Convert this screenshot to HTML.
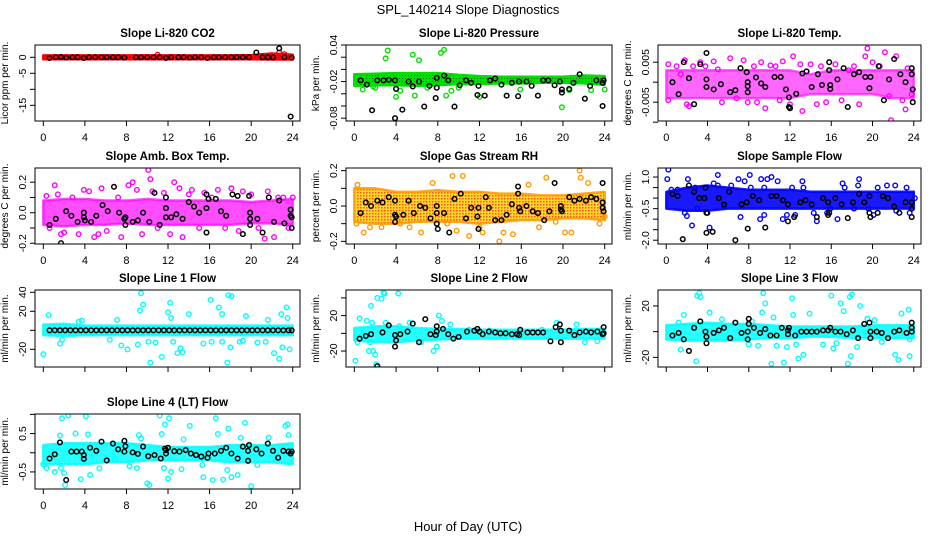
<!DOCTYPE html>
<html><head><meta charset="utf-8"><style>
html,body{margin:0;padding:0;background:#fff;}
svg{display:block;font-family:"Liberation Sans",sans-serif;}
</style></head><body>
<svg id="chart" width="936" height="540" viewBox="0 0 936 540">
<defs>
<pattern id="pGreen" width="3" height="3" patternUnits="userSpaceOnUse"><rect width="3" height="3" fill="#00e000"/><rect width="1" height="1" fill="#226622"/></pattern>
<pattern id="pOrange" width="3" height="3" patternUnits="userSpaceOnUse"><rect width="3" height="3" fill="#ffd000"/><rect width="1.5" height="1.5" fill="#ff3000"/></pattern>
</defs>
<text x="468" y="14" text-anchor="middle" font-size="13">SPL_140214  Slope Diagnostics</text>
<text x="468" y="531" text-anchor="middle" font-size="13">Hour of Day (UTC)</text>
</svg>
<script>
const bandHours=[0,2,4,6,8,10,12,14,16,18,20,22,24];
const xTicks=[0,4,8,12,16,20,24];

const co2Lo=[-0.6,-0.6,-0.6,-0.6,-0.6,-0.6,-0.6,-0.6,-0.6,-0.6,-0.6,-0.7,-0.7];
const co2Hi=[0.6,0.6,0.6,0.6,0.6,0.6,0.6,0.6,0.6,0.6,0.7,1.2,0.8];
const co2Out=[[22.7,1.5],[11,0.8],[23.2,1.0]];
const co2Black=[[0.6,-0.2],[1.2,0],[1.7,0.1],[2.2,-0.1],[2.8,0],[3.3,0],[3.9,-0.2],[4.4,0],[5,0],[5.6,0],[6.1,0],[6.7,0],[7.2,0],[7.8,-0.1],[8.9,0],[9.4,0],[10,0],[10.6,0],[11.2,0],[11.8,-0.2],[12.3,0],[13,0],[13.5,0],[14.1,-0.1],[14.6,0],[15.2,0],[15.8,-0.2],[16.4,0],[16.9,0],[17.5,0],[18.1,0],[18.6,0],[19.2,0],[19.8,0],[20.5,1.5],[21.1,0],[21.6,0],[22.1,0],[22.7,2.8],[23.2,0],[23.8,-18.5],[23.9,-0.1]];

const presLo=[-0.027,-0.026,-0.026,-0.027,-0.026,-0.024,-0.024,-0.023,-0.023,-0.022,-0.022,-0.023,-0.025];
const presHi=[-0.008,-0.007,-0.006,-0.006,-0.006,-0.009,-0.011,-0.012,-0.012,-0.012,-0.012,-0.010,-0.011];
const presOut=[[3.2,0.031],[3,0.018],[8.6,0.032],[8.3,0.027],[5.6,0.024],[6.2,0.015],[0.8,-0.033],[2,-0.03],[4,-0.045],[4.4,-0.035],[5.8,-0.043],[8.8,-0.043],[9.3,-0.035],[12,-0.045],[15.9,-0.033],[19.9,-0.062],[22.7,-0.034],[24,-0.033],[20.6,-0.034],[1.8,-0.028],[7,-0.03],[10,-0.03]];
const presBlack=[[0.6,-0.018],[1.2,-0.025],[1.7,-0.067],[2.2,-0.018],[2.8,-0.018],[3.3,-0.017],[3.9,-0.08],[3.9,-0.018],[4.0,-0.032],[4.6,-0.066],[5.2,-0.02],[5.6,-0.028],[6.2,-0.02],[6.7,-0.061],[7.2,-0.027],[7.8,-0.047],[7.9,-0.03],[7.9,-0.014],[8.6,-0.01],[9.0,-0.018],[9.6,-0.061],[10.1,-0.026],[10.7,-0.018],[11.2,-0.022],[11.8,-0.042],[11.9,-0.027],[12.5,-0.043],[13.0,-0.018],[13.5,-0.015],[14.1,-0.025],[14.6,-0.043],[15.1,-0.022],[15.7,-0.044],[15.8,-0.02],[16.5,-0.02],[17.0,-0.027],[17.6,-0.043],[18.1,-0.018],[18.6,-0.018],[19.2,-0.026],[19.7,-0.02],[19.9,-0.038],[19.9,-0.033],[20.6,-0.032],[21.0,-0.022],[21.6,-0.008],[22.1,-0.048],[22.6,-0.027],[23.2,-0.018],[23.8,-0.06],[23.8,-0.022],[23.9,-0.018]];

const tempLo=[-0.004,-0.004,-0.004,-0.004,-0.004,-0.004,-0.004,-0.003,-0.003,-0.003,-0.003,-0.004,-0.004];
const tempHi=[0.003,0.003,0.003,0.003,0.003,0.003,0.003,0.002,0.003,0.003,0.003,0.003,0.003];
const tempOut=[[0.2,0.0045],[0.2,-0.0045],[1,0.004],[1.4,0.002],[1.8,0.0055],[2,-0.0055],[2.2,-0.006],[2.6,0.004],[3.3,0.005],[3.8,0.004],[4.6,0.0052],[5,0.0032],[5.4,-0.005],[6.2,0.006],[6.8,-0.004],[7.5,0.0055],[7.9,-0.005],[8.5,0.004],[8.8,-0.005],[9.2,0.005],[9.6,-0.0065],[10.1,0.0042],[10.6,0.004],[11,-0.0045],[11.3,0.0052],[12,-0.0055],[12.3,0.0065],[13,0.0045],[13.2,-0.0072],[14,0.0045],[14.6,-0.0055],[15,0.004],[15.5,-0.005],[16.4,0.0045],[17,-0.0045],[17.7,0.003],[18.2,0.004],[18.7,-0.0055],[19.3,0.0065],[19.5,0.0085],[20,0.005],[20.7,0.004],[21.2,0.0075],[21.6,-0.0035],[21.8,-0.0095],[22.3,0.0065],[22.9,-0.0045],[23.2,-0.0068],[23.4,0.0035],[23.8,-0.003]];
const tempBlack=[[0.6,0.0],[1.2,-0.003],[1.7,0.005],[2.2,0.001],[2.7,-0.0055],[3.3,0.0045],[3.9,0.0073],[3.9,0.0007],[3.9,-0.0012],[4.6,-0.0018],[5.3,-0.0005],[6.2,-0.0025],[6.7,-0.002],[7.2,0.0035],[7.8,0.0025],[7.9,0.0],[7.9,-0.001],[7.9,-0.0025],[8.7,0.0012],[9.2,-0.0003],[9.6,-0.0012],[10.5,0.0013],[11.1,0.0013],[11.6,-0.0018],[11.9,-0.0038],[11.9,-0.0062],[12.0,-0.0065],[12.6,-0.0029],[13.2,0.0022],[13.6,0.0027],[14.1,-0.0012],[14.7,0.002],[15.1,-0.0007],[15.8,0.005],[15.8,0.003],[15.9,-0.0007],[15.9,-0.0017],[16.6,0.0007],[17.2,0.0035],[17.6,-0.0062],[18.2,0.002],[18.7,0.0025],[19.3,0.0013],[19.7,-0.0015],[19.8,0.0013],[20.6,0.004],[21.1,-0.0045],[21.6,0.0007],[22.1,0.0058],[22.7,0.002],[23.2,0.0],[23.8,0.0035],[23.8,0.002],[23.9,-0.0018],[23.9,-0.005]];

const ambLo=[-0.08,-0.09,-0.08,-0.08,-0.07,-0.08,-0.08,-0.08,-0.08,-0.08,-0.07,-0.07,-0.08];
const ambHi=[0.08,0.09,0.09,0.08,0.08,0.09,0.08,0.08,0.08,0.08,0.07,0.08,0.09];
const ambOut=[[0.3,0.11],[0.6,-0.1],[1.1,0.18],[1.4,0.12],[1.7,-0.14],[2,-0.13],[2.8,0.1],[3.4,-0.14],[3.9,0.15],[4.4,0.14],[4.9,-0.16],[5.3,-0.14],[5.6,0.16],[6.1,-0.12],[7.2,0.1],[7.5,-0.16],[8.2,0.18],[8.6,0.2],[9.0,0.15],[9.5,-0.14],[10.1,0.28],[10.3,0.22],[10.5,0.14],[11,-0.1],[11.6,0.13],[12.2,-0.14],[12.6,0.2],[13.1,0.16],[13.4,-0.16],[14,0.12],[14.3,0.15],[15,-0.1],[15.5,0.13],[16.2,0.1],[16.8,0.15],[17.5,-0.1],[18.1,0.16],[18.8,-0.12],[19.2,0.14],[20,0.12],[20.7,-0.1],[21.3,-0.17],[21.6,0.14],[22.2,-0.16],[22.6,0.1],[23.1,0.1],[23.6,-0.1],[24,0.1]];
const ambBlack=[[0.6,-0.08],[1.2,-0.04],[1.7,-0.2],[2.2,0.01],[2.7,-0.02],[3.3,-0.06],[3.9,0.0],[3.9,-0.03],[4.0,-0.05],[4.6,-0.06],[5.1,-0.02],[5.7,0.05],[6.2,0.01],[6.8,0.17],[7.3,0.0],[7.8,-0.04],[7.9,-0.03],[7.9,-0.08],[8.6,-0.06],[9.1,-0.05],[9.6,0.0],[10.2,-0.06],[10.7,0.13],[11.2,-0.08],[11.8,0.1],[11.8,0.03],[11.8,-0.03],[12.3,-0.03],[12.8,-0.01],[13.4,-0.04],[14.0,0.07],[14.5,0.04],[15.0,0.0],[15.7,0.12],[15.7,0.03],[15.7,-0.13],[15.9,0.09],[16.6,0.09],[17.1,0.01],[17.6,-0.02],[18.2,0.12],[18.7,0.11],[19.2,-0.14],[19.8,0.11],[19.9,0.0],[19.9,-0.04],[19.9,-0.08],[20.6,-0.04],[21.1,-0.13],[21.7,0.1],[22.2,-0.06],[22.7,0.08],[23.2,-0.07],[23.8,0.02],[23.8,-0.02],[23.9,-0.1],[23.9,-0.03]];

const rhLo=[-0.09,-0.1,-0.1,-0.09,-0.09,-0.09,-0.1,-0.09,-0.08,-0.08,-0.07,-0.07,-0.08];
const rhHi=[0.1,0.1,0.08,0.08,0.09,0.08,0.08,0.07,0.07,0.06,0.06,0.07,0.08];
const rhOut=[[0.3,0.12],[0.2,-0.1],[0.9,-0.15],[1.5,-0.12],[2.6,-0.12],[4.4,-0.1],[5.3,-0.12],[6.4,-0.15],[7.5,0.13],[8.9,-0.1],[9.4,0.17],[9.8,-0.14],[10.4,0.17],[11,-0.17],[12,-0.12],[12.3,-0.15],[13.9,-0.2],[14.3,-0.15],[15.2,-0.16],[16.7,0.12],[17.7,-0.12],[18.4,0.16],[19.3,-0.09],[20.2,-0.15],[20.8,-0.15],[21.6,0.2],[21.7,0.16],[22.4,0.13],[23.5,-0.1],[24,-0.06]];
const rhBlack=[[0.6,-0.04],[1.1,0.02],[1.6,0.0],[2.2,0.03],[2.7,0.02],[3.3,0.05],[3.9,0.03],[3.9,-0.05],[3.9,-0.09],[4.0,-0.06],[4.7,-0.05],[5.2,0.03],[5.7,-0.04],[6.3,0.0],[6.8,-0.01],[7.3,-0.07],[7.9,0.0],[7.9,-0.04],[7.9,-0.1],[8.0,-0.13],[8.6,-0.04],[9.1,-0.15],[9.6,0.04],[10.2,0.07],[10.7,-0.07],[11.2,-0.01],[11.8,-0.06],[11.9,-0.01],[11.9,-0.13],[12.9,-0.01],[12.6,0.05],[13.5,-0.08],[14.1,-0.08],[14.6,-0.05],[15.1,0.01],[15.7,0.11],[15.7,0.07],[15.8,-0.01],[15.9,-0.03],[16.5,0.0],[17.1,-0.03],[17.6,-0.04],[18.2,-0.08],[18.7,-0.03],[19.2,0.13],[19.8,0.0],[19.8,-0.02],[19.9,-0.03],[20.6,0.05],[21.1,0.03],[21.6,0.04],[22.2,0.03],[22.7,0.05],[23.2,0.04],[23.8,0.13],[23.8,0.02],[23.8,-0.01],[23.9,-0.03]];

const flowLo=[-0.5,-0.6,-0.6,-0.5,-0.5,-0.5,-0.5,-0.5,-0.5,-0.5,-0.5,-0.5,-0.5];
const flowHi=[0.3,0.5,0.6,0.5,0.4,0.4,0.4,0.3,0.3,0.3,0.3,0.3,0.3];
const flowOut=[[0.2,1.35],[0.1,0.9],[0.5,0.4],[1.1,0.4],[1.8,-0.7],[2,-0.85],[2.1,0.9],[2.5,-1.3],[2.8,0.5],[3,-0.5],[4,-0.7],[4.2,-1.4],[4.6,0.7],[5,1.1],[5,0.6],[5.6,-0.4],[6.3,0.6],[7,0.9],[7.2,-0.9],[7.6,0.8],[8.1,1.1],[8.2,0.5],[9.1,-1],[9.2,0.9],[9.5,-0.8],[9.5,0.5],[9.8,0.9],[10.2,1],[10.8,0.8],[11.3,-1],[11.7,-0.8],[12.2,0.5],[12.5,-0.8],[13.2,0.8],[13.3,0.5],[14.3,-0.7],[14.6,-1.1],[15.6,-0.7],[15.9,-0.5],[16.6,-1],[17.1,0.7],[17.3,0.5],[18.2,-0.5],[18.7,0.9],[18.6,0.6],[19.6,-0.5],[20.1,-0.8],[20.5,0.5],[21.4,0.6],[22.2,0.6],[22.3,-0.6],[23.3,0.5],[23.6,-0.7],[24.1,0]];
const flowBlack=[[0.6,0.2],[1.1,0.1],[1.6,-1.95],[2.2,0.6],[2.7,0.3],[3.2,0],[3.7,0],[3.8,0.5],[3.9,-0.7],[3.9,-1.65],[4.5,-1.6],[5.1,0],[5.6,-0.3],[6.1,0.3],[6.7,-2.0],[7.3,-0.3],[7.8,-0.2],[7.9,-1.45],[8.4,0.1],[9.0,-0.1],[9.6,-1.4],[10.2,0.1],[10.7,0.1],[11.3,-0.1],[11.8,-0.3],[11.8,-1.1],[12.4,-0.9],[13,-0.2],[13.5,-0.1],[14.1,-0.3],[14.6,-0.9],[15.2,0],[15.7,-0.2],[15.7,-0.8],[15.8,-0.7],[16.4,0.0],[17.0,-0.3],[17.6,-0.95],[18.1,-0.2],[18.7,0.2],[19.2,-0.2],[19.7,0.1],[19.7,-0.7],[19.8,-0.9],[20.5,-0.7],[21.0,0.1],[21.5,0.0],[22.1,-0.4],[22.6,-0.7],[23.2,-0.2],[23.8,-0.2],[23.8,-0.5],[23.8,-0.9]];

const l1Lo=[-5,-6,-5,-5,-5,-5,-5,-5,-5,-5,-5,-5,-5];
const l1Hi=[6,7,5,5,5,5,5,5,5,5,5,5,5];
const l1Out=[[0,-25],[0.5,16],[1.6,-14],[1.8,-10],[3.4,9],[3.7,10],[6.4,-10],[7.1,11],[7.5,-16],[8.1,-20],[9.1,-15],[9.3,21],[9.4,39],[9.6,27],[10.1,-12],[10.3,-34],[10.8,-13],[11.4,-28],[12,19],[12.2,29],[12.3,13],[12.5,-12],[12.9,-24],[13.2,-19],[13.4,-23],[14,17],[15.4,-14],[16.1,32],[16.2,-12],[16.9,24],[17.2,17],[17.2,-12],[17.7,-34],[17.8,37],[18,-18],[18.1,36],[18.9,-12],[19.2,-11],[19.5,15],[20.6,-13],[21.4,-12],[21.6,11],[22.2,-24],[22.7,-30],[22.9,17],[23,-18],[23.4,24],[23.7,-20],[23.5,13]];
const l1Black=[[0.6,0],[1.1,0],[1.6,0],[2.1,0],[2.6,0],[3.1,0],[3.6,0],[4.1,0],[4.6,0],[5.1,0],[5.6,0],[6.1,0],[6.6,0],[7.1,0],[7.6,0],[8.1,0],[8.6,0],[9.1,0],[9.6,0],[10.1,0],[10.6,0],[11.1,0],[11.6,0],[12.1,0],[12.6,0],[13.1,0],[13.6,0],[14.1,0],[14.6,0],[15.1,0],[15.6,0],[16.1,0],[16.6,0],[17.1,0],[17.6,0],[18.1,0],[18.6,0],[19.1,0],[19.6,0],[20.1,0],[20.6,0],[21.1,0],[21.6,0],[22.1,0],[22.6,0],[23.1,0],[23.6,0],[23.9,0]];

const l2Lo=[-8,-10,-10,-8,-7,-6,-6,-6,-6,-6,-6,-6,-6];
const l2Hi=[6,8,8,6,5,5,4,4,4,4,4,5,5];
const l2Out=[[0.1,-31],[0.3,-10],[0.5,17],[0.9,-2],[1.2,14],[1.4,-20],[1.5,-10],[1.6,31],[1.7,12],[1.8,-20],[2.0,-24],[2.1,-35],[2.2,40],[2.6,39],[2.8,46],[2.9,45],[3.0,12],[3.2,7],[4.2,45],[4.3,8],[5.3,12],[6.4,-10],[7.6,-20],[7.9,-15],[8.1,20],[8.4,14],[9.2,10],[11.0,4],[13,3],[18,4],[19.4,12],[21.3,10],[22.1,-10],[23.3,-9]];
const l2Black=[[0.5,-6],[1.1,-3],[1.6,-1],[2.2,-37],[2.7,1],[3.3,9],[3.9,-2],[3.9,-15],[4.0,-8],[4.4,-1],[5.1,2],[5.6,11],[6.2,-10],[6.8,16],[7.3,-1],[7.8,-2],[7.9,2],[7.9,8],[8.5,5],[9.0,-1],[9.5,-6],[10.0,-4],[10.8,2],[11.5,3],[11.8,5],[12.0,2],[12.3,-1],[12.9,2],[13.5,1],[14.0,0],[14.5,0],[15.1,-1],[15.6,-1],[15.8,-2],[15.9,4],[16.6,1],[17.1,1],[17.6,1],[18.1,1],[18.8,-9],[19.3,7],[19.7,10],[19.8,3],[19.8,-10],[20.6,3],[21.1,-2],[21.6,1],[22.2,2],[22.7,1],[23.3,2],[23.8,-1],[23.9,7],[23.9,0]];

const l3Lo=[-6,-7,-7,-7,-6,-5,-5,-4,-4,-5,-5,-5,-5];
const l3Hi=[5,6,7,6,6,5,4,4,4,4,5,5,5];
const l3Out=[[1.2,7],[1.4,-14],[1.7,13],[2.9,-23],[3.0,28],[3.2,30],[3.3,27],[4.2,15],[5.4,9.6],[6,-5],[8,-10],[8.3,8],[8.9,-11],[9.3,15],[9.4,30],[9.6,22],[10.2,-25],[10.4,11],[10.7,-11],[11.4,-24],[11.7,-12],[12.2,26],[12.3,13],[12.6,-10],[12.8,-21],[13.3,-18],[13.9,14],[15.2,-10],[16,28],[16.2,-13],[16.5,-9],[16.9,22],[17.2,16],[17.6,-25],[17.8,27],[18,29],[17.9,-19],[18.5,-12],[18.8,20],[19.5,10],[20.2,9],[20.9,-8],[22.2,-18],[22.5,-22],[22.8,14],[23.5,17],[23.6,-19],[23.6,-6]];
const l3Black=[[0.6,-3],[1.2,-1],[1.7,-6],[2.2,-15],[2.7,3],[3.3,8],[3.8,0],[3.9,-4],[3.9,-9],[4.6,-1],[5.1,1],[5.6,3],[6.2,-5],[6.7,7],[7.3,-1],[7.9,0],[7.9,-6],[8,10],[8,6],[8.5,3],[9.1,-1],[9.6,2],[10.1,-3],[10.7,-3],[11.2,3],[11.8,1],[11.8,-2],[11.9,3],[12.5,-3],[13.1,0],[13.6,0],[14.1,0],[14.6,0],[15.2,1],[15.7,1],[15.9,3],[16.4,0],[16.9,0],[17.5,-2],[18.1,1],[18.6,-5],[19.2,6],[19.7,7],[19.8,0],[19.8,-5],[20.4,0],[20.9,-1],[21.5,-5],[22.1,0],[22.6,1],[23.3,-1],[23.8,0],[23.8,3],[23.8,7]];

const l4Lo=[-0.3,-0.3,-0.3,-0.25,-0.25,-0.2,-0.2,-0.2,-0.2,-0.25,-0.25,-0.25,-0.3];
const l4Hi=[0.2,0.25,0.25,0.25,0.25,0.2,0.15,0.15,0.15,0.2,0.2,0.2,0.25];
const l4Out=[[0,-0.3],[0.3,-0.4],[1.1,-0.5],[1.6,0.45],[1.7,-0.4],[1.8,0.9],[2,-0.53],[2.1,-0.84],[2.4,0.97],[3.1,0.5],[3.6,-0.69],[4.1,0.95],[4.3,0.48],[4.5,-0.58],[5.4,-0.4],[6.9,-0.17],[8.3,-0.35],[9,-0.4],[9.2,0.46],[9.4,0.37],[10,-0.8],[10.2,-0.84],[11.2,0.97],[11.4,0.49],[11.7,0.74],[11.6,-0.4],[12,-0.67],[12.1,0.9],[12.3,-0.5],[13.3,-0.43],[13.5,0.35],[14.1,0.7],[15.3,-0.32],[15.4,-0.64],[16.3,-0.71],[16.6,0.9],[16.8,0.49],[17.3,-0.7],[17.7,-0.45],[17.8,0.63],[18.1,-0.64],[18.7,-0.58],[19,0.39],[19.4,0.78],[20,-0.87],[20.6,-0.32],[21.7,0.39],[23.3,0.7],[23.5,0.74],[23.6,0.46]];
const l4Black=[[0.6,-0.15],[1.1,-0.04],[1.6,0.27],[2.2,-0.71],[2.7,0.03],[3.2,0.03],[3.7,0.03],[3.9,-0.06],[3.9,-0.16],[4.5,0.13],[5.1,0.05],[5.6,0.29],[6.1,-0.2],[6.7,0.24],[7.2,0.09],[7.8,0.03],[7.8,0.31],[7.9,0.17],[8.6,0.01],[9.1,-0.03],[9.6,0.16],[10.1,-0.09],[10.7,-0.06],[11.3,-0.15],[11.7,0.11],[11.8,-0.02],[11.8,0.07],[12,0.13],[12.6,0.04],[13.1,0.03],[13.7,0.07],[14.2,-0.02],[14.7,-0.06],[15.2,-0.1],[15.8,-0.13],[15.9,-0.02],[16.5,-0.02],[17.1,0.05],[17.6,0.13],[18.1,-0.02],[18.7,-0.15],[19.2,0.16],[19.7,0.05],[19.7,-0.21],[19.8,0.2],[20.5,0.09],[21,-0.02],[21.6,0.24],[22.1,0.05],[22.6,-0.13],[23.1,0.05],[23.6,0.03],[23.9,0.03],[23.8,-0.02]];

const cols=[{l:35,r:300},{l:346,r:612},{l:658,r:921}];
const rows=[{t:45,b:121},{t:168,b:244},{t:290,b:367},{t:414,b:489}];
const panels=[
 {id:'co2',title:'Slope Li-820 CO2',ylab:'Licor ppm per min.',c:0,r:0,ymin:-19.9,ymax:3.84,ticks:[0,-5,-10,-15],labels:['0','-5','','-15'],fill:'#ff0000',col:'#ff0000',op:1,lo:co2Lo,hi:co2Hi,out:co2Out,blk:co2Black,xl:true},
 {id:'pressure',title:'Slope Li-820 Pressure',ylab:'kPa per min.',c:1,r:0,ymin:-0.0846,ymax:0.04,ticks:[0.04,0.02,0,-0.02,-0.04,-0.06,-0.08],labels:['0.04','','','-0.02','','','-0.08'],fill:'url(#pGreen)',col:'#00dd00',op:1,lo:presLo,hi:presHi,out:presOut,blk:presBlack,xl:true},
 {id:'li820-temp',title:'Slope Li-820 Temp.',ylab:'degrees C per min.',c:2,r:0,ymin:-0.0097,ymax:0.0093,ticks:[0.005,0,-0.005,-0.01],labels:['0.005','','-0.005',''],fill:'#ff00ff',col:'#ff00ff',op:0.6,lo:tempLo,hi:tempHi,out:tempOut,blk:tempBlack,xl:true},
 {id:'amb-box-temp',title:'Slope Amb. Box Temp.',ylab:'degrees C per min.',c:0,r:1,ymin:-0.205,ymax:0.293,ticks:[0.2,0.1,0,-0.1,-0.2],labels:['0.2','','0.0','','-0.2'],fill:'#ff00ff',col:'#ff00ff',op:0.7,lo:ambLo,hi:ambHi,out:ambOut,blk:ambBlack,xl:true},
 {id:'gas-stream-rh',title:'Slope Gas Stream RH',ylab:'percent per min.',c:1,r:1,ymin:-0.215,ymax:0.215,ticks:[0.2,0.1,0,-0.1,-0.2],labels:['0.2','','0.0','','-0.2'],fill:'url(#pOrange)',col:'#ff9900',op:0.85,lo:rhLo,hi:rhHi,out:rhOut,blk:rhBlack,xl:true},
 {id:'sample-flow',title:'Slope Sample Flow',ylab:'ml/min per min.',c:2,r:1,ymin:-2.18,ymax:1.43,ticks:[1,0.5,0,-0.5,-1,-1.5,-2],labels:['1.0','','','-0.5','','','-2.0'],fill:'#0000ff',col:'#0000ff',op:0.9,lo:flowLo,hi:flowHi,out:flowOut,blk:flowBlack,xl:true},
 {id:'line1-flow',title:'Slope Line 1 Flow',ylab:'ml/min per min.',c:0,r:2,ymin:-38.6,ymax:42.4,ticks:[40,20,0,-20],labels:['40','20','','-20'],fill:'#00ffff',col:'#00ffff',op:0.85,lo:l1Lo,hi:l1Hi,out:l1Out,blk:l1Black,xl:false},
 {id:'line2-flow',title:'Slope Line 2 Flow',ylab:'ml/min per min.',c:1,r:2,ymin:-38,ymax:48.9,ticks:[40,20,0,-20],labels:['','20','','-20'],fill:'#00ffff',col:'#00ffff',op:0.85,lo:l2Lo,hi:l2Hi,out:l2Out,blk:l2Black,xl:false},
 {id:'line3-flow',title:'Slope Line 3 Flow',ylab:'ml/min per min.',c:2,r:2,ymin:-27.5,ymax:32.4,ticks:[20,0,-20],labels:['20','','-20'],fill:'#00ffff',col:'#00ffff',op:0.85,lo:l3Lo,hi:l3Hi,out:l3Out,blk:l3Black,xl:false},
 {id:'line4-flow',title:'Slope Line 4 (LT) Flow',ylab:'ml/min per min.',c:0,r:3,ymin:-0.945,ymax:1.01,ticks:[1,0.5,0,-0.5],labels:['','0.5','','-0.5'],fill:'#00ffff',col:'#00ffff',op:0.85,lo:l4Lo,hi:l4Hi,out:l4Out,blk:l4Black,xl:true}
];

const NS='http://www.w3.org/2000/svg';
const svg=document.getElementById('chart');
function mk(tag,attrs,parent){const e=document.createElementNS(NS,tag);for(const k in attrs)e.setAttribute(k,attrs[k]);(parent||svg).appendChild(e);return e;}

panels.forEach(p=>{
 const C=cols[p.c],R=rows[p.r];
 const xs=h=>C.l+(h+0.8)/25.5*(C.r-C.l);
 const ys=v=>R.t+(p.ymax-v)/(p.ymax-p.ymin)*(R.b-R.t);
 const g=mk('g',{});
 
 
 const clipId='clip-'+p.id;
 const cp=mk('clipPath',{id:clipId},g);
 mk('rect',{x:C.l,y:R.t,width:C.r-C.l,height:R.b-R.t},cp);
 const plot=mk('g',{'clip-path':'url(#'+clipId+')'},g);
 
 
 let pts=[];
 bandHours.forEach((h,i)=>pts.push(xs(h).toFixed(1)+','+ys(p.hi[i]).toFixed(1)));
 for(let i=bandHours.length-1;i>=0;i--)pts.push(xs(bandHours[i]).toFixed(1)+','+ys(p.lo[i]).toFixed(1));
 const band=mk('polygon',{points:pts.join(' '),fill:p.fill,'fill-opacity':p.op,stroke:p.col,'stroke-opacity':p.op,'stroke-width':2.5,'stroke-linejoin':'round'},plot);
 
 
 p.out.forEach(d=>{
  const c=mk('circle',{cx:xs(d[0]),cy:ys(d[1]),r:2.3,fill:'none',stroke:p.col,'stroke-width':1.4},plot);
  
  
 });
 p.blk.forEach(d=>{
  const c=mk('circle',{cx:xs(d[0]),cy:ys(d[1]),r:2.3,fill:'none',stroke:'#000','stroke-width':1.5},plot);
  
  
 });
 const box=mk('rect',{x:C.l,y:R.t,width:C.r-C.l,height:R.b-R.t,fill:'none',stroke:'#000','stroke-width':1},g);
 
 
 const tt=mk('text',{x:(C.l+C.r)/2,y:R.t-8,'text-anchor':'middle','font-size':11.5,'font-weight':'bold'},g);
 tt.textContent=p.title;
 
 
 const ym=(R.t+R.b)/2;
 const yl=mk('text',{x:C.l-27,y:ym,'text-anchor':'middle','font-size':10,transform:'rotate(-90 '+(C.l-27)+' '+ym+')'},g);
 yl.textContent=p.ylab;
 
 
 p.ticks.forEach((v,i)=>{
  const y=ys(v);
  const tk=mk('line',{x1:C.l-5,x2:C.l,y1:y,y2:y,stroke:'#000'},g);
  
  
  if(p.labels[i]){
   const t=mk('text',{x:C.l-9,y:y,'text-anchor':'middle','font-size':10.5,transform:'rotate(-90 '+(C.l-9)+' '+y+')'},g);
   t.textContent=p.labels[i];
   
   
  }
 });
 xTicks.forEach(h=>{
  const x=xs(h);
  const tk=mk('line',{x1:x,x2:x,y1:R.b,y2:R.b+5,stroke:'#000'},g);
  
  
  if(p.xl){
   const t=mk('text',{x:x,y:R.b+20,'text-anchor':'middle','font-size':11},g);
   t.textContent=String(h);
   
   
  }
 });
});
</script>
</body></html>
